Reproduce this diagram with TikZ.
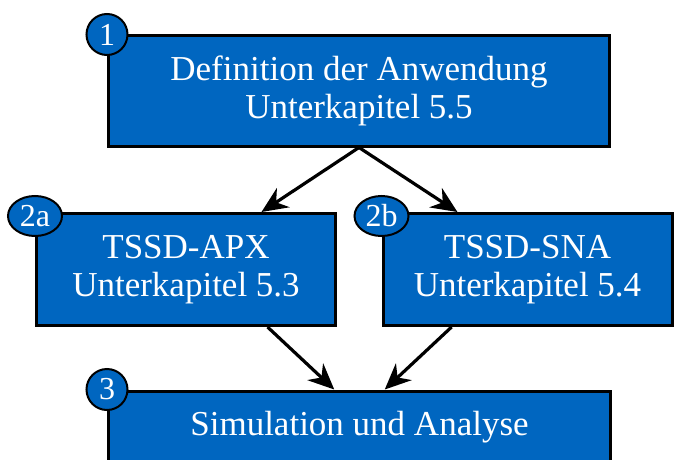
\documentclass[tikz,border=0pt]{standalone}
\usepackage{fontspec}
\setmainfont{Liberation Serif}
\usetikzlibrary{arrows.meta,calc,shapes.geometric}

\definecolor{stageblue}{RGB}{0,102,192}

\tikzset{%
	stage/.style={
		draw=black,
		fill=stageblue,
		line width=1.5pt,
		text=white,
		align=center,
		inner sep=0pt,
		font=\fontsize{17.5}{19}\selectfont
	},
	badge circle/.style={
		circle,
		draw=black,
		fill=stageblue,
		line width=1pt,
		text=white,
		inner sep=0pt,
		minimum size=20.5pt,
		font=\fontsize{16}{16}\selectfont
	},
	badge oval/.style={
		ellipse,
		draw=black,
		fill=stageblue,
		line width=1pt,
		text=white,
		inner sep=0pt,
		minimum width=27pt,
		minimum height=20pt,
		font=\fontsize{16}{16}\selectfont
	},
}

\begin{document}
\begin{tikzpicture}[x=0.5pt, y=-0.5pt, >={Stealth[length=13pt,width=11.5pt]}, line width=1.6pt]
\useasboundingbox (0,0) rectangle (674,460);

% the boxes
\node [stage, minimum width=250.5pt, minimum height=55pt] (def) at (359,91) {Definition der Anwendung\\Unterkapitel 5.5};

\node [stage, minimum width=149.5pt, minimum height=56pt] (apx) at (186,269.5) {TSSD-APX\\Unterkapitel 5.3};
\node [stage, minimum width=144.5pt, minimum height=56pt] (sna) at (527.5,269.5) {TSSD-SNA\\Unterkapitel 5.4};

\node [stage, minimum width=251pt, text height=22pt, text depth=40pt, anchor=north] (sim) at (359.5,389.5) {Simulation und Analyse};

% numbers at the corners
\foreach \n/\t in {def/1, sim/3}
\node [badge circle] (badge-\t) at (\n.north west) {\t};

\foreach \n/\t in {apx/2a, sna/2b}
\node [badge oval] (badge-\t) at ([yshift=-2pt]\n.north west) {\t};

% arrows
\draw [->] (def.south) -- ($(apx.north west)!0.75!(apx.north east)$);
\draw [->] (def.south) -- ($(sna.north west)!0.26!(sna.north east)$);

\draw [->] ($(apx.south west)!0.77!(apx.south east)$) -- ($(sim.north west)!0.45!(sim.north east)$);
\draw [->] ($(sna.south west)!0.24!(sna.south east)$) -- ($(sim.north west)!0.55!(sim.north east)$);

\end{tikzpicture}
\end{document}
